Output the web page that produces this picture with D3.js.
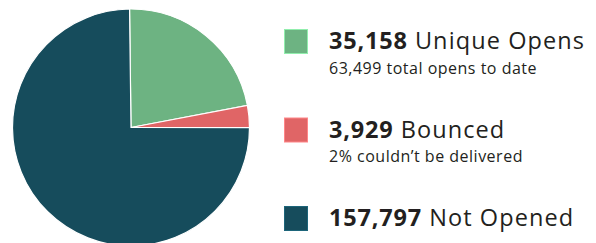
<!DOCTYPE html>
<html lang="en">
<head>
<meta charset="UTF-8">
<title>Email delivery pie</title>
<style>
  body { margin: 0; background: #fff; overflow: hidden; }
  svg { display: block; }
  .big { font-family: "Open Sans", "Noto Sans", sans-serif; font-size: 23.5px; fill: #231f20; letter-spacing: 1.1px; }
  .big .num { font-weight: bold; letter-spacing: 0.8px; }
  .small { font-family: "Open Sans", "Noto Sans", sans-serif; font-size: 16px; fill: #231f20; letter-spacing: 0.5px; }
</style>
</head>
<body>
<svg width="596" height="243"></svg>
<script src="https://cdn.jsdelivr.net/npm/d3@7"></script>
<script>
// legend data
const categories = ["Unique Opens", "Bounced", "Not Opened"];
const counts = ["35,158", "3,929", "157,797"];
const notes = ["63,499 total opens to date", "2% couldn\u2019t be delivered", ""];
// slice shares as they appear in the pie (percent)
const shares = [22.2, 3.0, 74.8];
const colors = ["#6db382", "#e06566", "#164c5c"];

const svg = d3.select("svg");

const cx = 131, cy = 127.5, r = 118.5;
const startA = -0.7 * Math.PI / 180;

const pie = d3.pie().sort(null).value(d => d)
  .startAngle(startA).endAngle(startA + 2 * Math.PI);
const arc = d3.arc().innerRadius(0).outerRadius(r);

svg.append("g")
  .attr("transform", `translate(${cx},${cy})`)
  .selectAll("path")
  .data(pie(shares))
  .join("path")
  .attr("d", arc)
  .attr("fill", (d, i) => colors[i])
  .attr("stroke", "#fff")
  .attr("stroke-width", 1.2);

// legend
const rowY = d3.scalePoint().domain(categories).range([29, 206]);

const rows = svg.selectAll("g.row")
  .data(categories)
  .join("g")
  .attr("class", "row")
  .attr("transform", d => `translate(284,${rowY(d)})`);

rows.append("rect")
  .attr("x", 0.5).attr("y", 0.5)
  .attr("width", 23).attr("height", 24)
  .attr("fill", (d, i) => colors[i])
  .attr("stroke", (d, i) => d3.color(colors[i]).brighter(0.8))
  .attr("stroke-width", 1);

const t = rows.append("text")
  .attr("class", "big")
  .attr("x", 45)
  .attr("y", 20);
t.append("tspan").attr("class", "num").text((d, i) => counts[i]);
t.append("tspan").text(d => " " + d);

rows.append("text")
  .attr("class", "small")
  .attr("x", 45)
  .attr("y", 44.5)
  .text((d, i) => notes[i]);
</script>
</body>
</html>
